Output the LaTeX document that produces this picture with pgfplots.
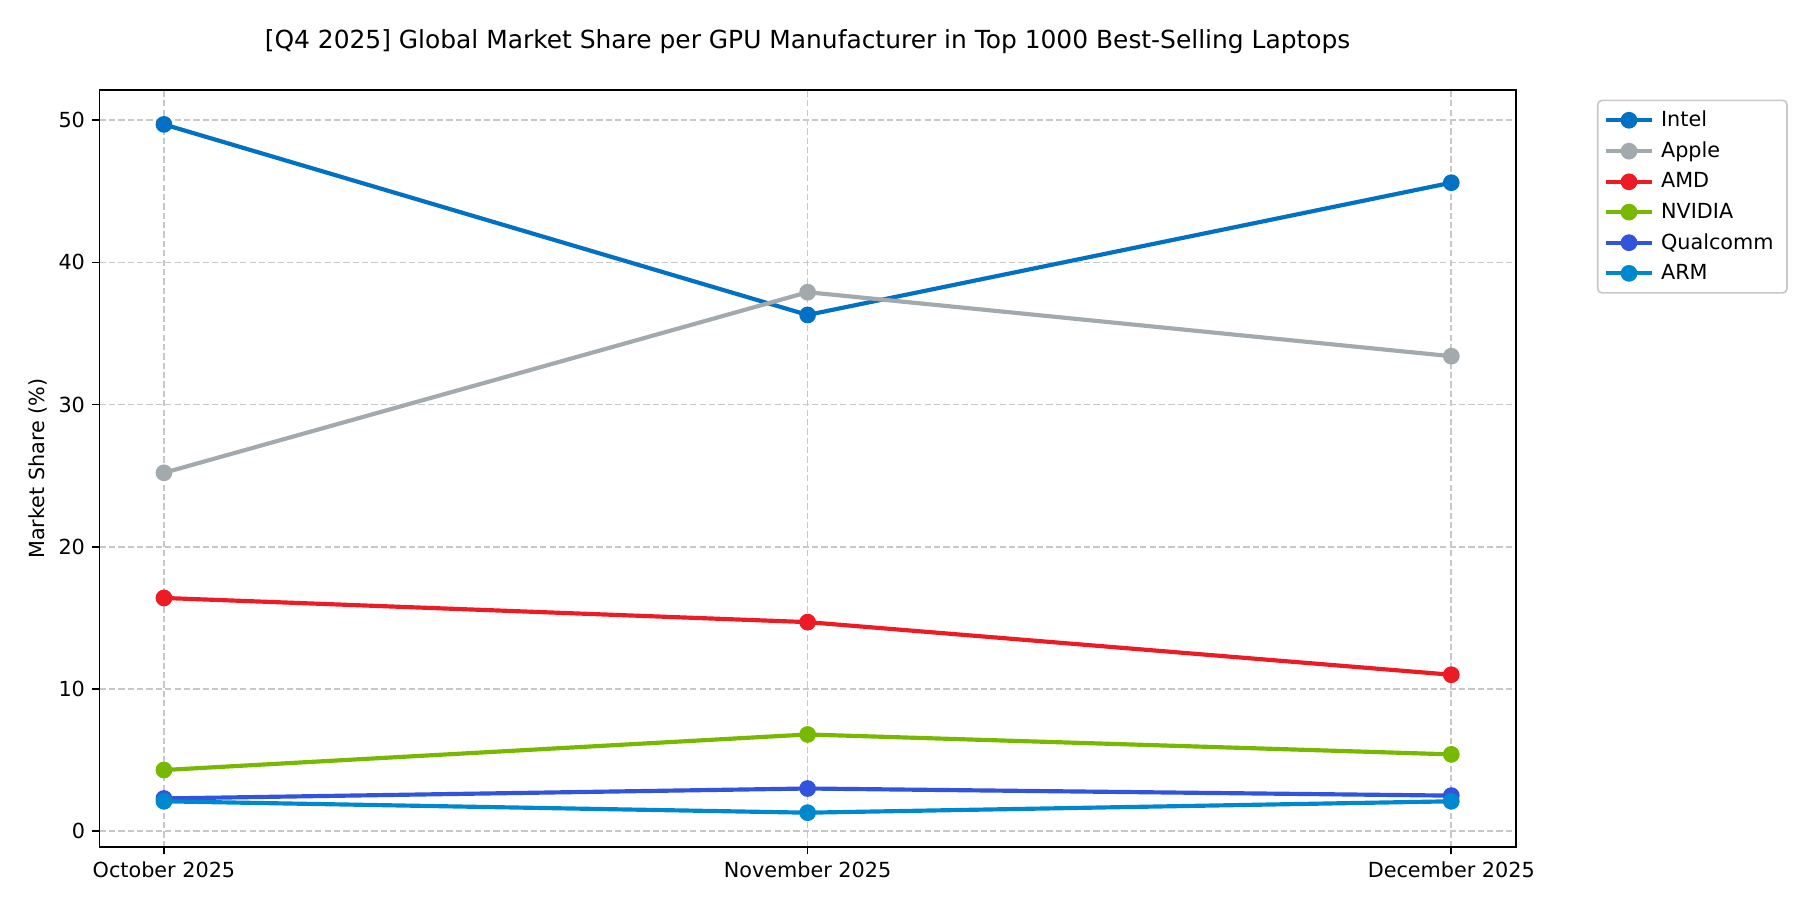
\documentclass[border=0pt]{standalone}
\usepackage{fontspec}
\setmainfont{DejaVu Sans}
\usepackage{pgfplots}
\pgfplotsset{compat=1.18}
\definecolor{cIntel}{HTML}{0071C5}
\definecolor{cApple}{HTML}{A2AAAD}
\definecolor{cAMD}{HTML}{ED1C24}
\definecolor{cNVIDIA}{HTML}{76B900}
\definecolor{cQualcomm}{HTML}{3253DC}
\definecolor{cARM}{HTML}{0088CE}
\definecolor{gridc}{HTML}{C8C8C8}
\begin{document}
\begin{tikzpicture}
\path[use as bounding box] (-47.8bp,-31.6bp) rectangle (822.9bp,406.6bp);
\begin{axis}[
  scale only axis,
  width=679.7bp, height=363.4bp,
  xmin=-0.1, xmax=2.1,
  ymin=-1.12, ymax=52.12,
  xtick={0,1,2},
  xticklabels={October 2025,November 2025,December 2025},
  ytick={0,10,20,30,40,50},
  /pgf/number format/assume math mode=true,
  ticklabel style={font=\fontsize{10}{12}\selectfont},
  tick align=outside,
  major tick length=3.5bp,
  tick style={black, line width=0.8bp},
  xtick pos=bottom, ytick pos=left,
  axis line style={line width=0.8bp, black},
  grid=major,
  major grid style={gridc, line width=0.8bp, dash pattern=on 3bp off 1.5bp},
  ylabel={Market Share (\%)},
  ylabel style={at={(rel axis cs:-0.0432,0.5)}, anchor=center, font=\fontsize{10}{12}\selectfont},
  title={[Q4 2025] Global Market Share per GPU Manufacturer in Top 1000 Best-Selling Laptops},
  title style={at={(rel axis cs:0.5,1)}, anchor=center, yshift=17bp, font=\fontsize{12}{14}\selectfont},
  legend style={at={(rel axis cs:1,1)}, anchor=north west, xshift=39bp, yshift=-4.6bp,
    draw=gridc, rounded corners=2bp, line width=0.8bp, font=\fontsize{10}{12}\selectfont,
    inner xsep=3bp, inner ysep=3bp, row sep=1.8bp,
    nodes={inner xsep=3.4bp}},
  legend cell align=left,
  legend image code/.code={\draw[mark repeat=2,mark phase=2] plot coordinates {(0bp,0bp) (11bp,0bp) (22bp,0bp)};},
  every axis plot/.append style={line width=2bp, mark=*, mark size=3bp},
]
\addplot[color=cIntel, mark options={fill=cIntel, draw=cIntel}] coordinates {(0,49.7) (1,36.3) (2,45.6)};
\addlegendentry{Intel}
\addplot[color=cApple, mark options={fill=cApple, draw=cApple}] coordinates {(0,25.2) (1,37.9) (2,33.4)};
\addlegendentry{Apple}
\addplot[color=cAMD, mark options={fill=cAMD, draw=cAMD}] coordinates {(0,16.4) (1,14.7) (2,11.0)};
\addlegendentry{AMD}
\addplot[color=cNVIDIA, mark options={fill=cNVIDIA, draw=cNVIDIA}] coordinates {(0,4.3) (1,6.8) (2,5.4)};
\addlegendentry{NVIDIA}
\addplot[color=cQualcomm, mark options={fill=cQualcomm, draw=cQualcomm}] coordinates {(0,2.3) (1,3.0) (2,2.5)};
\addlegendentry{Qualcomm}
\addplot[color=cARM, mark options={fill=cARM, draw=cARM}] coordinates {(0,2.1) (1,1.3) (2,2.1)};
\addlegendentry{ARM}
\end{axis}
\end{tikzpicture}
\end{document}
